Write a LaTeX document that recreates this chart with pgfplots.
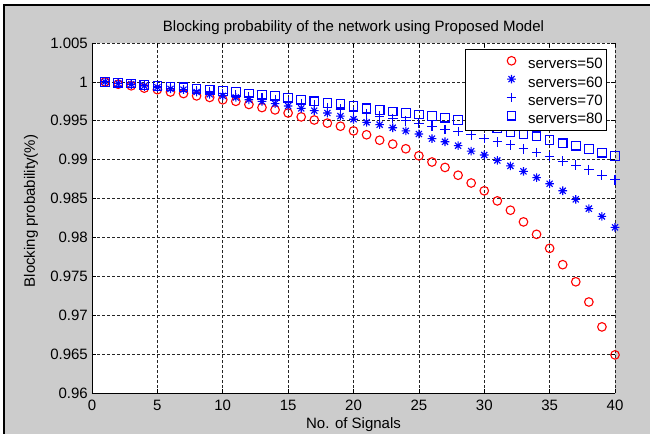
\documentclass[border=0pt]{standalone}
\usepackage{pgfplots}
\pgfplotsset{compat=1.18}
\usepackage{pgfplotstable}
\usepackage{fontspec}
\setmainfont{Liberation Sans}
\definecolor{figgray}{RGB}{204,204,204}
\definecolor{mred}{RGB}{255,0,0}
\definecolor{mblue}{RGB}{0,0,255}
\pgfdeclareplotmark{mstar}{%
  \pgfpathmoveto{\pgfqpoint{-\pgfplotmarksize}{0pt}}\pgfpathlineto{\pgfqpoint{\pgfplotmarksize}{0pt}}%
  \pgfpathmoveto{\pgfqpoint{0pt}{-\pgfplotmarksize}}\pgfpathlineto{\pgfqpoint{0pt}{\pgfplotmarksize}}%
  \pgfpathmoveto{\pgfqpoint{-0.707\pgfplotmarksize}{-0.707\pgfplotmarksize}}\pgfpathlineto{\pgfqpoint{0.707\pgfplotmarksize}{0.707\pgfplotmarksize}}%
  \pgfpathmoveto{\pgfqpoint{-0.707\pgfplotmarksize}{0.707\pgfplotmarksize}}\pgfpathlineto{\pgfqpoint{0.707\pgfplotmarksize}{-0.707\pgfplotmarksize}}%
  \pgfusepathqstroke}
\pgfplotstableread{
x  a      b      c      d
1  1.0000 1.0000 1.0000 1.0000
2  0.9997 0.9998 0.9998 0.9999
3  0.9995 0.9997 0.9997 0.9998
4  0.9992 0.9995 0.9995 0.9996
5  0.9990 0.9993 0.9994 0.9995
6  0.9987 0.9991 0.9992 0.9994
7  0.9985 0.9990 0.9990 0.9993
8  0.9982 0.9987 0.9989 0.9991
9  0.9980 0.9984 0.9987 0.9990
10 0.9977 0.9982 0.9985 0.9988
11 0.9975 0.9980 0.9983 0.9987
12 0.9971 0.9977 0.9981 0.9985
13 0.9967 0.9975 0.9979 0.9983
14 0.9964 0.9972 0.9977 0.9982
15 0.9960 0.9969 0.9975 0.9979
16 0.9955 0.9966 0.9972 0.9977
17 0.9951 0.9963 0.9970 0.9975
18 0.9947 0.9960 0.9967 0.9973
19 0.9943 0.9956 0.9965 0.9972
20 0.9937 0.9952 0.9962 0.9969
21 0.9932 0.9948 0.9959 0.9966
22 0.9925 0.9945 0.9956 0.9964
23 0.9920 0.9941 0.9953 0.9962
24 0.9914 0.9937 0.9950 0.9960
25 0.9905 0.9933 0.9947 0.9958
26 0.9897 0.9927 0.9943 0.9956
27 0.9890 0.9923 0.9939 0.9954
28 0.9880 0.9918 0.9936 0.9951
29 0.9870 0.9911 0.9932 0.9949
30 0.9860 0.9906 0.9927 0.9945
31 0.9847 0.9899 0.9923 0.9940
32 0.9835 0.9892 0.9919 0.9935
33 0.9820 0.9885 0.9914 0.9933
34 0.9804 0.9877 0.9909 0.9930
35 0.9786 0.9869 0.9904 0.9925
36 0.9765 0.9860 0.9898 0.9921
37 0.9743 0.9849 0.9893 0.9918
38 0.9717 0.9837 0.9887 0.9914
39 0.9685 0.9827 0.9880 0.9909
40 0.9649 0.9813 0.9874 0.9905
}\data
\begin{document}
\begin{tikzpicture}[font=\fontsize{15}{18}\selectfont]
\fill[white] (-92pt,-41pt) rectangle (558pt,393pt);
\fill[black] (-89pt,-41pt) rectangle (558pt,389pt);
\fill[figgray] (-87pt,-41pt) rectangle (558pt,387pt);
\begin{axis}[
  at={(0pt,0pt)}, anchor=south west,
  scale only axis, width=523pt, height=350pt,
  xmin=0, xmax=40, ymin=0.96, ymax=1.005,
  clip=false,
  axis background/.style={fill=white},
  axis line style={draw=none},
  tick align=inside, major tick length=4pt,
  tick style={black, line width=0.6pt},
  xtick={0,5,...,40},
  ytick={0.96,0.965,0.97,0.975,0.98,0.985,0.99,0.995,1,1.005},
  yticklabels={0.96,0.965,0.97,0.975,0.98,0.985,0.99,0.995,1,1.005},
  /pgf/number format/assume math mode=true,
  xmajorgrids, ymajorgrids,
  grid style={black!85, line width=0.7pt, dash pattern=on 3pt off 2pt},
  every x tick label/.style={anchor=base, inner sep=0pt, yshift=-17pt},
  every y tick label/.style={anchor=east, inner sep=0pt, xshift=-4pt},
  title={Blocking probability of the network using Proposed Model},
  every axis title/.style={at={(0.5,1)}, anchor=base, yshift=11pt, inner sep=0pt},
  xlabel={No. of Signals},
  every axis x label/.style={at={(0.5,0)}, anchor=base, yshift=-35pt, inner sep=0pt},
  ylabel={Blocking probability(\%)},
  every axis y label/.style={at={(-0.1166,0.52)}, rotate=90, anchor=center, inner sep=0pt},
  legend style={at={(0.9847,0.9829)}, anchor=north east, draw=black, line width=0.6pt,
    fill=white, inner xsep=4pt, inner ysep=6pt, row sep=4.3pt, column sep=0pt,
    nodes={inner sep=0pt, text height=13.5pt, text depth=0.5pt}, cells={anchor=west}},
  legend image code/.code={\path (0pt,0pt) (58pt,0pt);
    \draw plot coordinates {(42pt,1.5pt)};},
]
\addplot[only marks, mark=o, color=mred, mark options={draw=mred, fill=none}, mark size=4.3pt, line width=1.1pt] table[x=x, y=a]{\data};
\addlegendentry{servers=50\hspace{4pt}}
\addplot[only marks, mark=mstar, color=mblue, mark options={draw=mblue, fill=none}, mark size=4.3pt, line width=1.1pt] table[x=x, y=b]{\data};
\addlegendentry{servers=60\hspace{4pt}}
\addplot[only marks, mark=+, color=mblue, mark options={draw=mblue, fill=none}, mark size=4.8pt, line width=1.1pt] table[x=x, y=c]{\data};
\addlegendentry{servers=70\hspace{4pt}}
\addplot[only marks, mark=square, color=mblue, mark options={draw=mblue, fill=none}, mark size=4.3pt, line width=1.1pt] table[x=x, y=d]{\data};
\addlegendentry{servers=80\hspace{4pt}}
\draw[black, line width=0.8pt] (rel axis cs:0,1) -- (rel axis cs:0,0) -- (rel axis cs:1,0);
\end{axis}
\pgfresetboundingbox
\useasboundingbox (-92pt,-41pt) rectangle (558pt,393pt);
\end{tikzpicture}
\end{document}
